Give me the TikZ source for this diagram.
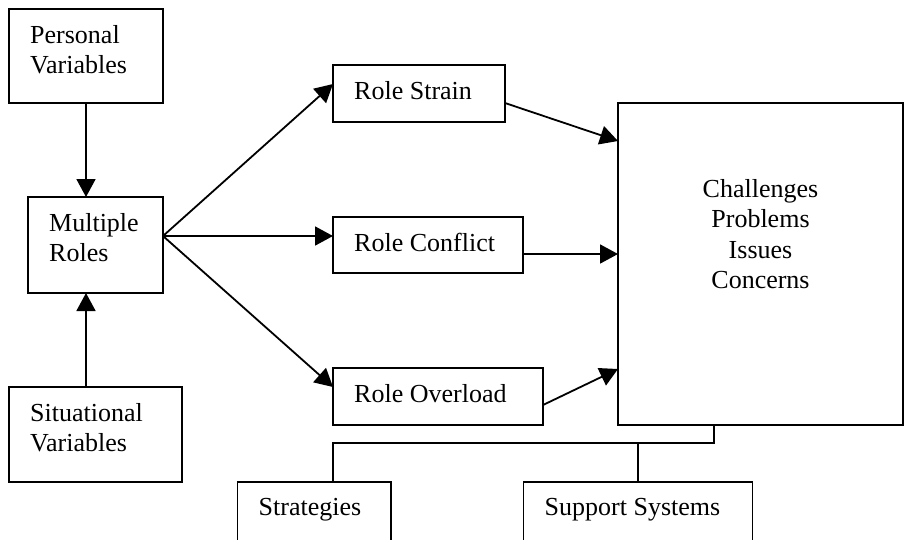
\documentclass[tikz,border=0pt]{standalone}
\usepackage{fontspec}
\setmainfont{Liberation Serif}
\usetikzlibrary{arrows.meta}
\begin{document}
\begin{tikzpicture}[x=1pt,y=-1pt,
  box/.style={draw, line width=1.8pt, anchor=north west, inner sep=0pt, outer sep=0pt},
  txtbase/.style={inner sep=0pt, font=\fontsize{26}{30.5}\selectfont},
  txt/.style={txtbase, anchor=north west, align=left, xshift=21pt, yshift=-16pt},
  ctxt/.style={txtbase, anchor=north, align=center, yshift=-76pt},
  arr/.style={line width=1.8pt, -{Triangle[length=18pt,width=19pt]}},
  link/.style={line width=1.8pt}]
\useasboundingbox (0,0) rectangle (905,539);
\clip (0,0) rectangle (905,539);

\node[box, minimum width=154pt, minimum height=94pt, label={[txt]north west:Personal\\Variables}] (pv) at (9,9) {};
\node[box, minimum width=135pt, minimum height=96pt, label={[txt]north west:Multiple\\Roles}] (mr) at (28,197) {};
\node[box, minimum width=173pt, minimum height=95pt, label={[txt]north west:Situational\\Variables}] (sv) at (9,387) {};
\node[box, minimum width=172pt, minimum height=57pt, label={[txt]north west:Role Strain}] (rs) at (333,65) {};
\node[box, minimum width=190pt, minimum height=56pt, label={[txt]north west:Role Conflict}] (rc) at (333,217) {};
\node[box, minimum width=210pt, minimum height=57pt, label={[txt]north west:Role Overload}] (ro) at (333,368) {};
\node[box, minimum width=285pt, minimum height=322pt, label={[ctxt]north:Challenges\\Problems\\Issues\\Concerns}] (ch) at (618,103) {};
\node[box, minimum width=153.5pt, minimum height=80pt, label={[txt]north west:Strategies}] (st) at (237.5,482) {};
\node[box, minimum width=229pt, minimum height=80pt, label={[txt]north west:Support Systems}] (ss) at (523.5,482) {};

\draw[arr] (pv.south) -- (pv.south |- mr.north);
\draw[arr] (sv.north -| pv.south) -- (mr.south -| pv.south);

\coordinate (fan) at ([yshift=9pt]mr.east);
\draw[arr] (fan) -- ([yshift=9.5pt]rs.west);
\draw[arr] (fan) -- ([yshift=9pt]rc.west);
\draw[arr] (fan) -- ([yshift=9.5pt]ro.west);

\draw[arr] ([yshift=-9.5pt]rs.east) -- ([yshift=-38pt]ch.north west);
\draw[arr] ([yshift=-9pt]rc.east) -- ([yshift=-151pt]ch.north west);
\draw[arr] ([yshift=-8.5pt]ro.east) -- ([yshift=-266pt]ch.north west);

\coordinate (bj) at ([xshift=96pt]ch.south west);
\coordinate (bus) at (0,443);
\coordinate (stx) at ([xshift=19pt]st.north);
\draw[link] (bj) |- (bus -| stx) -- (stx);
\draw[link] (bus -| ss.north) -- (ss.north);
\end{tikzpicture}
\end{document}
